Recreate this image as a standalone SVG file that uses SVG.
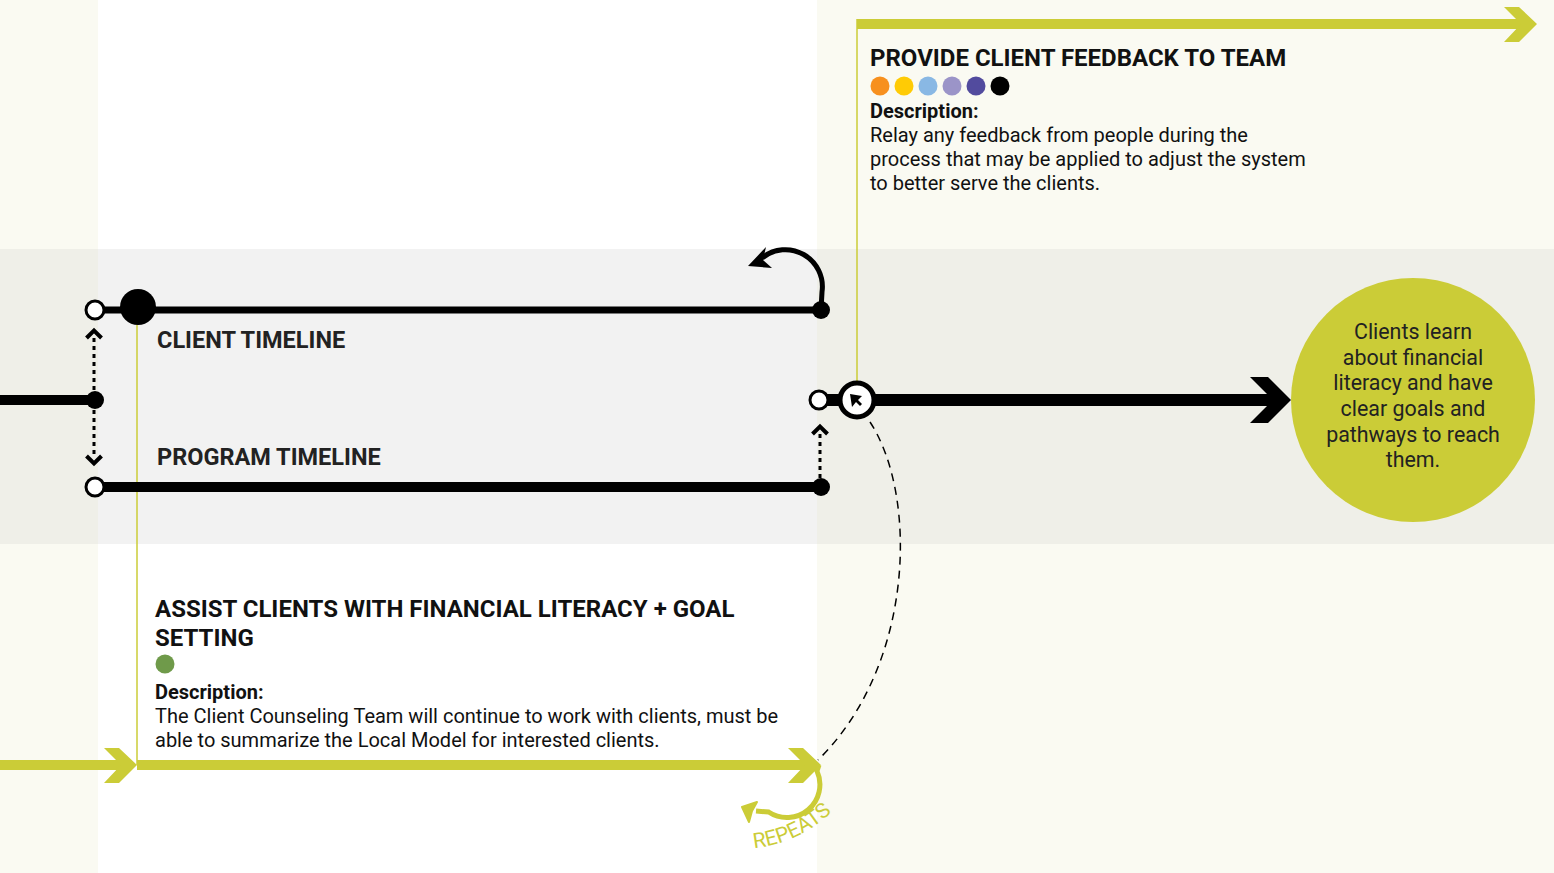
<svg xmlns="http://www.w3.org/2000/svg" width="1554" height="873" viewBox="0 0 1554 873">
<style>
.t{font-family:Roboto,"Liberation Sans",sans-serif;fill:#111}
.h{font-weight:700;font-size:24px}
.tl{font-weight:700;font-size:23.5px;fill:#222}
.b{font-size:20px}
.bd{font-size:20px;font-weight:700}
.g{fill:#cbcc37}
.gs{stroke:#cbcc37;fill:none}
.k{stroke:#000;fill:none}
.oc{fill:#fff;stroke:#000;stroke-width:3}
.ch{stroke:#000;stroke-width:4;fill:none;stroke-linejoin:miter}
</style>
<defs>
<path id="chev" d="M0 0 L15 0 L33 17 L15 35 L0 35 L17 17 Z"/>
<path id="rp" d="M754 848 Q803 843 839 805 L850 792"/>
</defs>
<g id="background">
<rect x="0" y="0" width="1554" height="873" fill="#fafaf2"/>
<rect x="98" y="0" width="719" height="873" fill="#ffffff"/>
<rect x="0" y="249" width="1554" height="295" fill="#efefe8"/>
<rect x="98" y="249" width="719" height="295" fill="#f2f2f2"/>
</g>
<g id="connectors">
<line x1="857" y1="19" x2="857" y2="385" class="gs" stroke-width="1.5"/>
<line x1="137" y1="325" x2="137" y2="765" class="gs" stroke-width="1.5"/>
<line x1="857" y1="24" x2="1525" y2="24" class="gs" stroke-width="10"/>
<use href="#chev" x="1504" y="7" class="g"/>
<line x1="0" y1="765" x2="125" y2="765" class="gs" stroke-width="10"/>
<use href="#chev" x="104" y="748" class="g"/>
<line x1="137" y1="765" x2="810" y2="765" class="gs" stroke-width="10"/>
<use href="#chev" x="788" y="748" class="g"/>
<path d="M819 765 L817 771 A33 33 0 0 1 768.6 812 L756 811" class="gs" stroke-width="5"/>
<path d="M742 807 L757 802 L752 811 L749 822 Z" class="g" stroke="#cbcc37" stroke-width="2" stroke-linejoin="round"/>
<text class="t" font-size="21" style="fill:#cbcc37"><textPath href="#rp">REPEATS</textPath></text>
<path d="M870 422 C918 495 915 665 818 760" class="k" stroke-width="1.5" stroke-dasharray="8 6"/>
<line x1="0" y1="400" x2="95" y2="400" class="k" stroke-width="10"/>
<line x1="95" y1="310" x2="821" y2="310" class="k" stroke-width="7"/>
<line x1="95" y1="487" x2="821" y2="487" class="k" stroke-width="10"/>
<line x1="819" y1="400" x2="1275" y2="400" class="k" stroke-width="12"/>
<path d="M1250 377 L1268 377 L1291 400 L1268 423 L1250 423 L1273 400 Z" fill="#000"/>
<path d="M821 310 L822 292 A37 37 0 0 0 762 258" class="k" stroke-width="5"/>
<path d="M748 266 L766 247 L763 260 L772 268 Z" fill="#000"/>
<line x1="94" y1="338" x2="94" y2="456" class="k" stroke-width="3" stroke-dasharray="4 4"/>
<path d="M86.5 338 L94 330.5 L101.5 338" class="ch"/>
<path d="M86.5 456 L94 463.5 L101.5 456" class="ch"/>
<line x1="820" y1="434" x2="820" y2="482" class="k" stroke-width="3" stroke-dasharray="4 4"/>
<path d="M812.5 434 L820 426.5 L827.5 434" class="ch"/>
</g>
<g id="client-timeline">
<circle cx="95" cy="310" r="9" class="oc"/>
<circle cx="138" cy="307" r="18" fill="#000"/>
<circle cx="821" cy="310" r="9" fill="#000"/>
<text x="157" y="348" class="t tl">CLIENT TIMELINE</text>
</g>
<g id="program-timeline">
<circle cx="95" cy="400" r="9" fill="#000"/>
<circle cx="95" cy="487" r="9" class="oc"/>
<circle cx="821" cy="487" r="9" fill="#000"/>
<text x="157" y="465" class="t tl">PROGRAM TIMELINE</text>
</g>
<g id="merge-node">
<circle cx="819" cy="400" r="9" class="oc"/>
<circle cx="857" cy="400" r="17" fill="#fff" stroke="#000" stroke-width="5"/>
<path d="M850 394 L862 396 L858 400 L862 404 L860 406 L856 402 L852 407 Z" fill="#000"/>
</g>
<g id="outcome">
<circle cx="1413" cy="400" r="122" class="g"/>
<g class="t" font-size="21.4" text-anchor="middle" style="fill:#222">
<text x="1413" y="339">Clients learn</text>
<text x="1413" y="365">about financial</text>
<text x="1413" y="390">literacy and have</text>
<text x="1413" y="416">clear goals and</text>
<text x="1413" y="442">pathways to reach</text>
<text x="1413" y="467">them.</text>
</g>
</g>
<g id="feedback-step">
<text x="870" y="66" class="t h">PROVIDE CLIENT FEEDBACK TO TEAM</text>
<circle cx="880" cy="86" r="9.5" fill="#f7901e"/>
<circle cx="904" cy="86" r="9.5" fill="#ffcb05"/>
<circle cx="928" cy="86" r="9.5" fill="#89b8e4"/>
<circle cx="952" cy="86" r="9.5" fill="#9b94c8"/>
<circle cx="976" cy="86" r="9.5" fill="#524b9e"/>
<circle cx="1000" cy="86" r="9.5" fill="#000"/>
<text x="870" y="118" class="t bd">Description:</text>
<text x="870" y="142" class="t b">Relay any feedback from people during the</text>
<text x="870" y="166" class="t b">process that may be applied to adjust the system</text>
<text x="870" y="190" class="t b">to better serve the clients.</text>
</g>
<g id="assist-step">
<text x="155" y="617" class="t h">ASSIST CLIENTS WITH FINANCIAL LITERACY + GOAL</text>
<text x="155" y="646" class="t h">SETTING</text>
<circle cx="165" cy="664" r="9.5" fill="#6f9a4a"/>
<text x="155" y="699" class="t bd">Description:</text>
<text x="155" y="723" class="t b">The Client Counseling Team will continue to work with clients, must be</text>
<text x="155" y="747" class="t b">able to summarize the Local Model for interested clients.</text>
</g>
</svg>
